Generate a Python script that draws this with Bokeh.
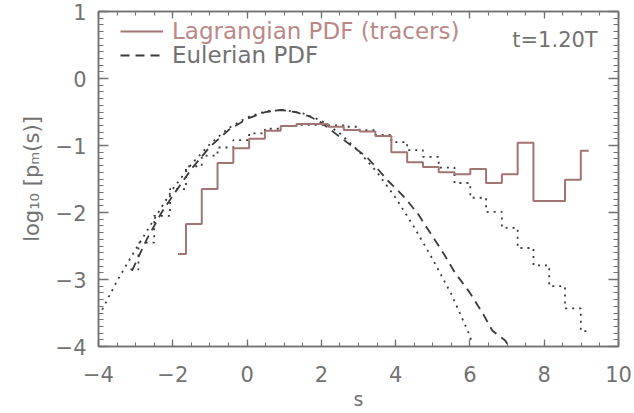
from bokeh.plotting import figure
from bokeh.models import (LinearAxis, Range1d, Legend, LegendItem, Label,
                          SingleIntervalTicker, CustomLabelingPolicy)
from bokeh.embed import file_html
from bokeh.resources import INLINE

# ---------------- data ----------------
# Lagrangian PDF (tracers): histogram, bin centres and log10 values
lag_s = [-1.86, -1.43, -1.01, -0.58, -0.16, 0.27, 0.69, 1.12, 1.54, 1.97,
         2.39, 2.82, 3.24, 3.67, 4.10, 4.52, 4.95, 5.37, 5.80, 6.22,
         6.65, 7.07, 7.50, 7.92, 8.35, 8.77, 9.20]
lag_y = [-2.62, -2.17, -1.65, -1.26, -1.04, -0.90, -0.78, -0.71, -0.68, -0.68,
         -0.72, -0.77, -0.79, -0.86, -1.10, -1.25, -1.32, -1.40, -1.43, -1.35,
         -1.56, -1.43, -0.96, -1.83, -1.83, -1.51, -1.08]

# Eulerian PDF (dashed)
eul_s = [-3.10, -2.70, -2.30, -2.00, -1.50, -1.00, -0.50, 0.00, 0.50, 0.90,
         1.30, 1.70, 2.00, 2.40, 2.80, 3.20, 3.50, 3.80, 4.25, 4.60,
         4.95, 5.30, 5.60, 6.00, 6.35, 6.60, 6.95, 7.05]
eul_y = [-2.87, -2.40, -2.00, -1.75, -1.35, -1.02, -0.77, -0.60, -0.50, -0.47,
         -0.50, -0.57, -0.66, -0.83, -1.00, -1.16, -1.34, -1.53, -1.78, -2.02,
         -2.32, -2.62, -2.90, -3.20, -3.51, -3.76, -3.91, -4.00]

# Gaussian fit (dotted curve)
gau_s = [-3.90, -3.50, -3.00, -2.50, -2.00, -1.50, -1.00, -0.50, 0.00, 0.50,
         1.00, 1.50, 2.00, 2.50, 3.00, 3.50, 4.00, 4.50, 5.00, 5.50, 6.00, 6.05]
gau_y = [-3.45, -3.02, -2.55, -2.10, -1.65, -1.28, -0.98, -0.74, -0.58, -0.49,
         -0.47, -0.52, -0.63, -0.82, -1.08, -1.40, -1.78, -2.22, -2.70, -3.22,
         -3.84, -3.95]

# dotted histogram
dh_s = [-3.14, -2.71, -2.29, -1.86, -1.43, -1.01, -0.58, -0.16, 0.27, 0.69,
        1.12, 1.54, 1.97, 2.39, 2.82, 3.24, 3.67, 4.10, 4.52, 4.95,
        5.37, 5.80, 6.22, 6.65, 7.07, 7.50, 7.92, 8.35, 8.77, 9.20]
dh_y = [-2.85, -2.45, -2.05, -1.65, -1.31, -1.15, -1.03, -0.92, -0.82, -0.75,
        -0.71, -0.69, -0.69, -0.70, -0.72, -0.77, -0.84, -0.95, -1.07, -1.17,
        -1.33, -1.56, -1.78, -1.99, -2.23, -2.53, -2.79, -3.10, -3.43, -3.77]

time_label = "t=1.20T"
x_label = "s"
y_label = "log\u2081\u2080 [p\u2098(s)]"
legend_labels = ["Lagrangian PDF (tracers)", "Eulerian PDF"]

# ---------------- styles ----------------
FONT = "DejaVu Sans"
GREY = "#727272"
LAG_COL = "#a27474"
LAG_TXT = "#bb8888"
DARK = "#3a3a3a"

p = figure(width=634, height=413, output_backend="svg", toolbar_location=None,
           x_range=Range1d(-4, 10), y_range=Range1d(-4, 1),
           min_border_left=98, min_border_right=12, min_border_top=10,
           min_border_bottom=67, x_axis_location=None, y_axis_location=None)
p.xgrid.visible = False
p.ygrid.visible = False
p.outline_line_color = GREY
p.outline_line_width = 1.5
p.background_fill_color = "white"
p.border_fill_color = "white"

xt = SingleIntervalTicker(interval=2, num_minor_ticks=4)
yt = SingleIntervalTicker(interval=1, num_minor_ticks=10)


def style(ax, xaxis, labels):
    ax.axis_line_color = GREY
    ax.axis_line_width = 1.5
    ax.major_tick_line_color = GREY
    ax.minor_tick_line_color = GREY
    ax.major_tick_line_width = 1.3
    ax.minor_tick_line_width = 1.1
    ax.major_tick_out = 0
    ax.minor_tick_out = 0
    if xaxis:
        ax.major_tick_in = 7
        ax.minor_tick_in = 4
    else:
        ax.major_tick_in = 10
        ax.minor_tick_in = 5
    if labels:
        ax.major_label_text_font = FONT
        ax.major_label_text_font_size = "21px"
        ax.major_label_text_color = GREY
        ax.axis_label_text_font = FONT
        ax.axis_label_text_font_style = "normal"
        ax.axis_label_text_font_size = "21px"
        ax.axis_label_text_color = GREY
    else:
        ax.major_label_policy = CustomLabelingPolicy(code="return new Set()")
        ax.major_label_standoff = 0


bottom = LinearAxis(ticker=xt, axis_label=x_label)
style(bottom, True, True)
bottom.major_label_standoff = 19
bottom.axis_label_standoff = 3
bottom.axis_label_text_font_size = "19px"
p.add_layout(bottom, "below")

left = LinearAxis(ticker=yt, axis_label=y_label)
style(left, False, True)
left.major_label_standoff = 12
left.axis_label_standoff = 9
p.add_layout(left, "left")

top = LinearAxis(ticker=xt)
style(top, True, False)
p.add_layout(top, "above")

right = LinearAxis(ticker=yt)
style(right, False, False)
p.add_layout(right, "right")

# ---------------- curves ----------------
r_gau = p.line(gau_s, gau_y, line_color=DARK, line_width=1.8, line_dash="2 5")
r_dh = p.step(dh_s, dh_y, mode="center", line_color=DARK, line_width=1.8,
              line_dash="2 5")
r_eul = p.line(eul_s, eul_y, line_color=DARK, line_width=1.8, line_dash="9 6")
r_lag = p.step(lag_s, lag_y, mode="center", line_color=LAG_COL, line_width=2)


# ---------------- legend ----------------
def make_legend(label, rend, loc, color):
    lg = Legend(items=[LegendItem(label=label, renderers=[rend])],
                location=loc, orientation="vertical",
                border_line_color=None, background_fill_alpha=0,
                padding=0, margin=0, spacing=0,
                glyph_width=43, glyph_height=20, label_height=20,
                label_standoff=9, label_text_font=FONT,
                label_text_font_size="23px", label_text_color=color)
    p.add_layout(lg, "center")


make_legend(legend_labels[0], r_lag, (22, 302), LAG_TXT)
make_legend(legend_labels[1], r_eul, (22, 278), GREY)

p.add_layout(Label(x=8.29, y=0.57, text=time_label, text_font=FONT,
                   text_font_size="21px", text_color=GREY,
                   text_align="center", text_baseline="middle"))

open("out.html", "w").write(file_html(p, INLINE))
